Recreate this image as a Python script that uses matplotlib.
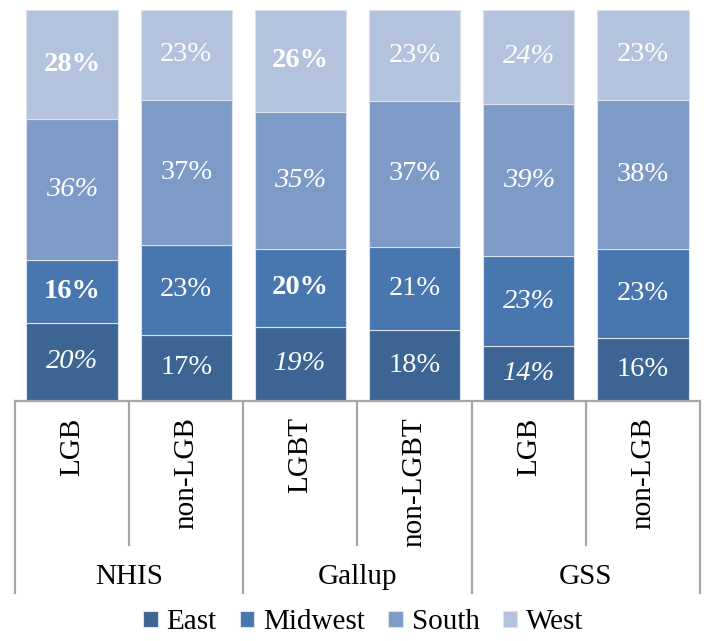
import matplotlib.pyplot as plt
import matplotlib.transforms as mtransforms
import numpy as np

plt.rcParams['font.family'] = ['Liberation Serif', 'DejaVu Serif']

# data (percent share by region)
groups = ['NHIS', 'Gallup', 'GSS']
bars = ['LGB', 'non-LGB', 'LGBT', 'non-LGBT', 'LGB', 'non-LGB']
regions = ['East', 'Midwest', 'South', 'West']
east = [20, 17, 19, 18, 14, 16]
midwest = [16, 23, 20, 21, 23, 23]
south = [36, 37, 35, 37, 39, 38]
west = [28, 23, 26, 23, 24, 23]

# how each bar's labels are drawn: b = bold, i = italic, n = normal (order East..West)
label_style = [
    ['i', 'b', 'i', 'b'],
    ['n', 'n', 'n', 'n'],
    ['i', 'b', 'i', 'b'],
    ['n', 'n', 'n', 'n'],
    ['i', 'i', 'i', 'i'],
    ['n', 'n', 'n', 'n'],
]

colors = ['#3d6594', '#4877b0', '#7e9bc7', '#b4c3dd']

fig = plt.figure(figsize=(7.04, 6.41), dpi=100)
ax = fig.add_axes([15 / 704, 1 - 401 / 641, 685 / 704, 391 / 641])

values = np.array([east, midwest, south, west], dtype=float)
shares = values / values.sum(axis=0)  # stacked to 100%
x = np.arange(len(bars))
bottom = np.zeros(len(bars))
for k, region in enumerate(regions):
    ax.bar(x, shares[k], 0.8, bottom=bottom, color=colors[k],
           edgecolor='#dbe2ee', linewidth=0.8, label=region)
    for i in range(len(bars)):
        st = label_style[i][k]
        ax.text(x[i], bottom[i] + shares[k][i] / 2, f'{values[k][i]:.0f}%',
                ha='center', va='center', color='white', fontsize=20.5,
                fontweight='bold' if st == 'b' else 'normal',
                fontstyle='italic' if st == 'i' else 'normal')
    bottom += shares[k]

ax.set_xlim(-0.5, len(bars) - 0.5)
ax.set_ylim(0, 1)
ax.axis('off')

# category axis with two levels
trans = mtransforms.blended_transform_factory(ax.transData, ax.transAxes)
line_kw = dict(color='#a6a6a6', lw=1.6, transform=trans, clip_on=False)
ax.plot([-0.5, len(bars) - 0.5], [0, 0], **line_kw)
for b in np.arange(-0.5, len(bars), 2):
    ax.plot([b, b], [0, -0.491], **line_kw)
for b in np.arange(0.5, len(bars), 2):
    ax.plot([b, b], [0, -0.368], **line_kw)

for i, name in enumerate(bars):
    ax.text(x[i], -0.042, name, rotation=90, ha='center', va='top',
            fontsize=21, transform=trans)
for g, name in enumerate(groups):
    ax.text(2 * g + 0.5, -0.45, name, ha='center', va='center',
            fontsize=21, transform=trans)

fig.legend(loc='center', bbox_to_anchor=(0.516, 0.029), ncol=4, frameon=False,
           fontsize=21, handlelength=0.5, handleheight=0.5,
           handletextpad=0.3, columnspacing=0.8, borderpad=0)

plt.savefig('out.png', dpi=100)
plt.close()
